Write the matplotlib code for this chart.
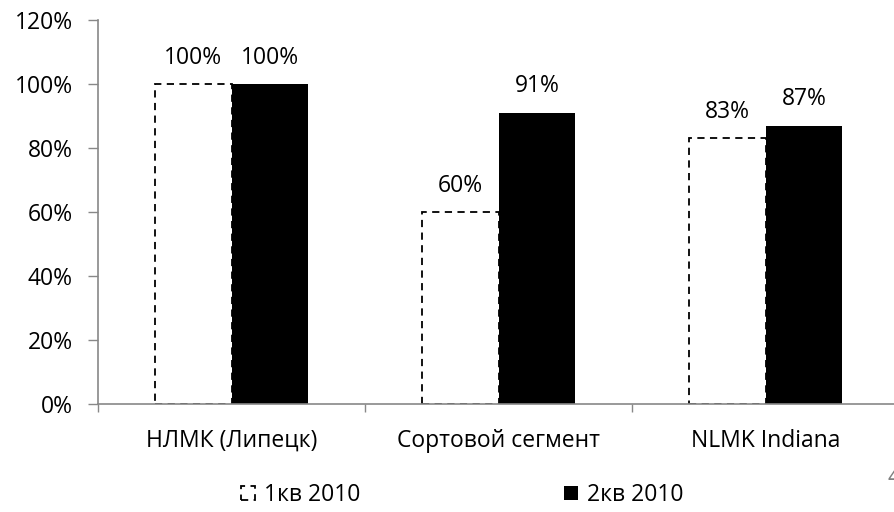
import matplotlib
matplotlib.use('Agg')
import matplotlib.pyplot as plt
import numpy as np

plt.rcParams['font.family'] = ['Open Sans', 'DejaVu Sans']

categories = ['НЛМК (Липецк)', 'Сортовой сегмент', 'NLMK Indiana']
q1_2010 = [100, 60, 83]
q2_2010 = [100, 91, 87]
series_names = ['1кв 2010', '2кв 2010']
y_ticks = [0, 20, 40, 60, 80, 100, 120]

fs = 16.5

fig = plt.figure(figsize=(8.94, 5.12), dpi=100)
ax = fig.add_axes([98 / 894, 108 / 512, 796 / 894, 384 / 512])

x = np.arange(len(categories))
w = 0.288
b1 = ax.bar(x - w / 2, q1_2010, w, facecolor='white', edgecolor='black',
            linestyle=(0, (4, 3)), linewidth=1.3, label=series_names[0], zorder=2)
b2 = ax.bar(x + w / 2, q2_2010, w, color='black', label=series_names[1], zorder=3)

for bars, vals in ((b1, q1_2010), (b2, q2_2010)):
    for rect, v in zip(bars, vals):
        ax.annotate(f'{v}%', (rect.get_x() + rect.get_width() / 2, v),
                    xytext=(0, 19), textcoords='offset points',
                    ha='center', va='center', fontsize=fs)

ax.set_ylim(0, 120)
ax.set_yticks(y_ticks)
ax.set_yticklabels([f'{t}%' for t in y_ticks])
ax.set_xlim(-0.5, 2.481)
ax.set_xticks(x)
ax.set_xticklabels(categories)
ax.set_xticks([-0.5, 0.5, 1.5], minor=True)
ax.tick_params(axis='x', which='major', length=0, pad=18, labelsize=fs)
ax.tick_params(axis='x', which='minor', length=6, color='#888888', width=1)
ax.tick_params(axis='y', length=7, color='#888888', width=1, pad=11, labelsize=fs)

for side in ('top', 'right'):
    ax.spines[side].set_visible(False)
for side in ('left', 'bottom'):
    ax.spines[side].set_color('#888888')
    ax.spines[side].set_linewidth(1.2)
ax.spines['bottom'].set_zorder(4)

fig.legend(handles=[b1, b2], labels=series_names, loc='center',
           bbox_to_anchor=(0.517, 0.033), ncol=2, frameon=False,
           handlelength=0.6, handleheight=0.6, handletextpad=0.4,
           columnspacing=8.9, fontsize=fs)

fig.text(887 / 894, 1 - 478 / 512, '4', ha='left', va='center',
         color='#7f7f7f', fontsize=fs)

fig.savefig('out.png', dpi=100)
